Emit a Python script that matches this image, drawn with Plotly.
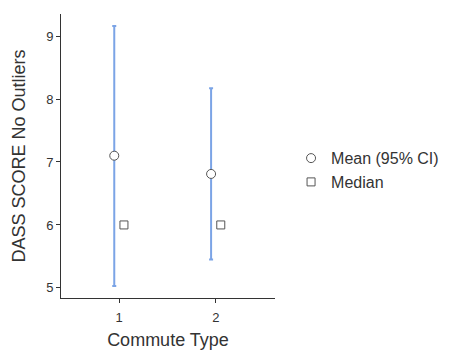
import plotly.graph_objects as go

groups = [1, 2]
means = [7.10, 6.81]
ci_low = [5.03, 5.45]
ci_high = [9.16, 8.17]
medians = [6.0, 6.0]
tick_vals_y = [5, 6, 7, 8, 9]

offset = 0.05
x_mean = [g - offset for g in groups]
x_med = [g + offset for g in groups]

fig = go.Figure()
fig.add_trace(go.Scatter(
    x=x_mean, y=means, mode="markers", name="Mean (95% CI)",
    marker=dict(symbol="circle", size=9, color="white",
                line=dict(color="#555555", width=1)),
    error_y=dict(type="data", symmetric=False,
                 array=[h - m for h, m in zip(ci_high, means)],
                 arrayminus=[m - l for m, l in zip(means, ci_low)],
                 color="#7ba4e6", thickness=2, width=2),
))
fig.add_trace(go.Scatter(
    x=x_med, y=medians, mode="markers", name="Median",
    marker=dict(symbol="square", size=8, color="white",
                line=dict(color="#555555", width=1)),
))

font = "Liberation Sans, Arial, sans-serif"
fig.update_layout(
    width=453, height=344,
    margin=dict(l=53, r=186, t=6, b=54),
    paper_bgcolor="white", plot_bgcolor="white",
    font=dict(family=font, color="#333333"),
    showlegend=True,
    legend=dict(x=1.075, y=0.45, xanchor="left", yanchor="middle",
                font=dict(size=16, color="#333333"), tracegroupgap=0,
                itemwidth=30),
    xaxis=dict(range=[0.4, 2.61], tickvals=groups, ticktext=[str(g) for g in groups],
               automargin=False,
               showgrid=False, zeroline=False, showline=True, linecolor="#333333",
               linewidth=1, ticks="outside", ticklen=4, tickcolor="#333333",
               ticklabelstandoff=3,
               tickfont=dict(size=13, color="#333333"),
               title=dict(text="Commute Type", font=dict(size=18, color="#333333"), standoff=9)),
    yaxis=dict(range=[4.84, 9.35], tickvals=tick_vals_y,
               automargin=False,
               showgrid=False, zeroline=False, showline=True, linecolor="#333333",
               linewidth=1, ticks="outside", ticklen=4, tickcolor="#333333",
               tickfont=dict(size=13, color="#333333"),
               title=dict(text="DASS SCORE No Outliers", font=dict(size=18, color="#333333"), standoff=15)),
)

fig.write_html("out.html")
